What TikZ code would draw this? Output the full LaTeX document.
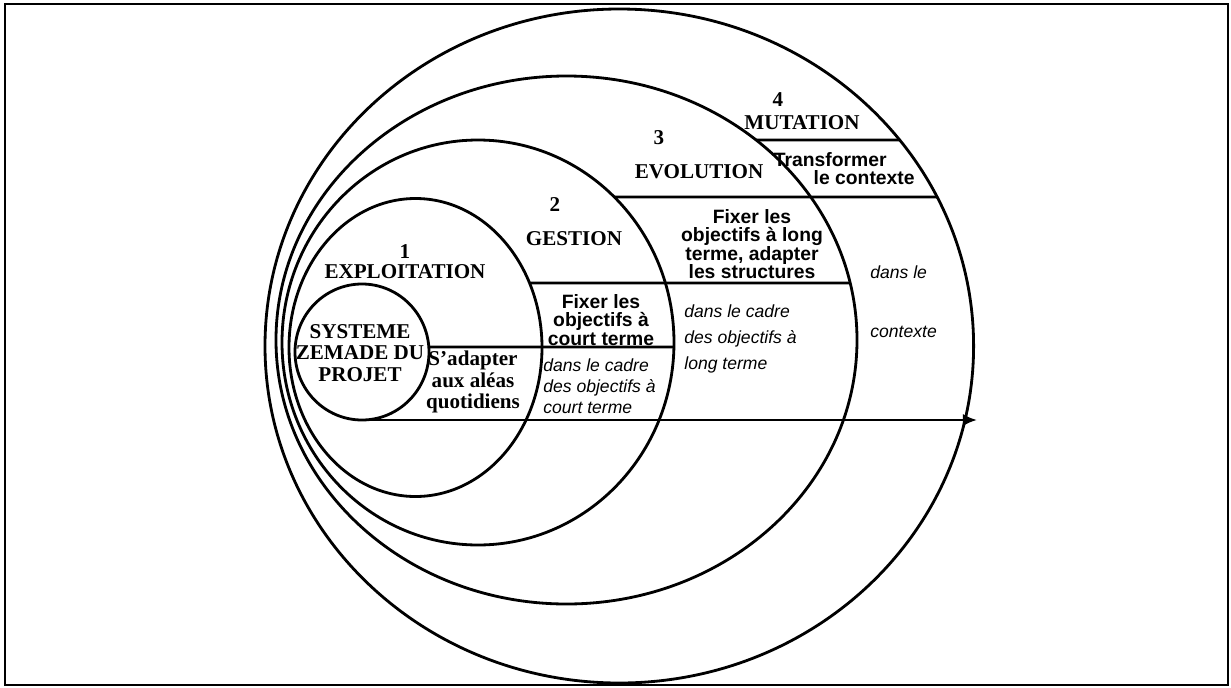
\documentclass[tikz,border=0pt]{standalone}
\usepackage{fontspec}
\setmainfont{Liberation Serif}
\setsansfont{Liberation Sans}
\usetikzlibrary{arrows.meta,calc}

\begin{document}
\begin{tikzpicture}[x=0.02cm, y=-0.02cm, >={Latex[length=8pt,width=7pt]},
    ring/.style={line width=1.6pt},
    rule/.style={line width=1.6pt},
    phasetxt/.style={font=\bfseries\fontsize{12}{12.3}\selectfont, inner sep=0pt, align=center},
    goaltxt/.style={font=\sffamily\bfseries\fontsize{11}{10.5}\selectfont, inner sep=0pt, align=center},
    framtxt/.style={font=\sffamily\itshape\fontsize{10}{12}\selectfont, inner sep=0pt, align=left, anchor=west}]
    \useasboundingbox (0,0) rectangle (1231,687);
    \draw[line width=1.1pt] (5,4) rectangle (1228,685);

    \coordinate (c1) at (362,352);
    \coordinate (c2) at (415.5,347.5);
    \coordinate (c3) at (478,342.5);
    \coordinate (c4) at (566.5,340);
    \coordinate (c5) at (619.3,346);
    \draw[ring] (c1) ellipse [x radius=67, y radius=68];
    \draw[ring] (c2) ellipse [x radius=126.5, y radius=149];
    \draw[ring] (c3) ellipse [x radius=196, y radius=202.5];
    \draw[ring] (c4) ellipse [x radius=290.5, y radius=264];
    \draw[ring] (c5) ellipse [x radius=354.3, y radius=337];

    \coordinate (a1) at ($(c1)+(-4.2:67 and 68)$);
    \coordinate (a2) at ($(c3)+(1.27:196 and 202.5)$);
    \coordinate (b1) at ($(c2)+(-25.65:126.5 and 149)$);
    \coordinate (b2) at ($(c4)+(-12.47:290.5 and 264)$);
    \coordinate (g1) at ($(c3)+(-45.93:196 and 202.5)$);
    \coordinate (g2) at ($(c5)+(-26.24:354.3 and 337)$);
    \coordinate (d1) at ($(c4)+(-49.25:290.5 and 264)$);
    \coordinate (d2) at ($(c5)+(-37.68:354.3 and 337)$);
    \coordinate (start) at ($(c1)+(0,68)$);
    \coordinate (tip) at (977,420);
    \draw[rule] (a1) -- (a2);
    \draw[rule] (b1) -- (b2);
    \draw[rule] (g1) -- (g2);
    \draw[rule] (d1) -- (d2);
    \draw[rule,->] (start) -- (tip);

    \node[phasetxt] (sys) at (360,353) {SYSTEME\\ZEMADE DU\\PROJET};
    \node[phasetxt] (n1) at (405,252) {1};
    \node[phasetxt] (expl) at (405,272) {EXPLOITATION};
    \node[phasetxt] (adapt) at (473,382) {S'adapter\\aux aléas\\quotidiens};
    \node[phasetxt] (n2) at (555,205) {2};
    \node[phasetxt] (gest) at (574,239) {GESTION};
    \node[phasetxt] (n3) at (659,138) {3};
    \node[phasetxt] (evol) at (699,172) {EVOLUTION};
    \node[phasetxt] (n4) at (778,100) {4};
    \node[phasetxt] (mut) at (802,123) {MUTATION};

    \node[goaltxt] (court) at (601,320) {Fixer les\\objectifs à\\court terme};
    \node[goaltxt] (long) at (752,244) {Fixer les\\objectifs à long\\terme, adapter\\les structures};
    \node[goaltxt, anchor=east] (transf) at (887,160) {Transformer};
    \node[goaltxt, anchor=east] (ctx) at (915,178) {le contexte};

    \node[framtxt] (cadrec) at (543,386) {dans le cadre\\des objectifs à\\court terme};
    \node[framtxt] (cadrel) at (684,339) {dans le cadre\\[3pt]des objectifs à\\[3pt]long terme};
    \node[framtxt] (dansctx) at (870,302) {dans le\\[21.6pt]contexte};
\end{tikzpicture}
\end{document}
